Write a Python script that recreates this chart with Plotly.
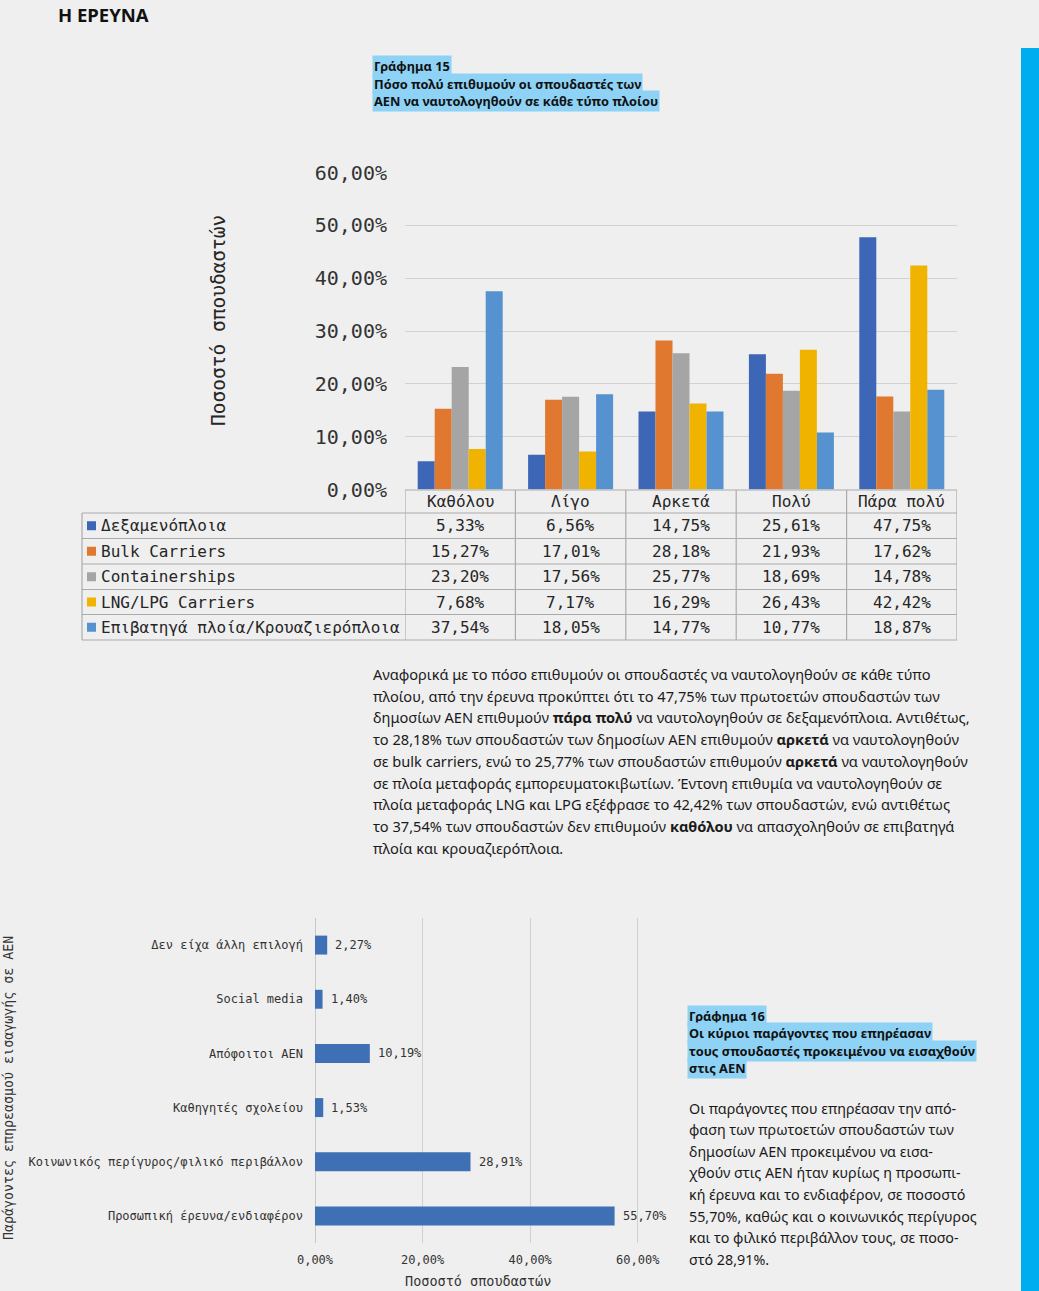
import plotly.graph_objects as go

W, H = 1039, 1291
BG = "#efefef"
MONO = "DejaVu Sans Mono"
SANS = "Noto Sans"

# ---------------- Chart 15 data ----------------
categories = ["Καθόλου", "Λίγο", "Αρκετά", "Πολύ", "Πάρα πολύ"]
ship_types = ["Δεξαμενόπλοια", "Bulk Carriers", "Containerships",
              "LNG/LPG Carriers", "Επιβατηγά πλοία/Κρουαζιερόπλοια"]
tankers = [5.33, 6.56, 14.75, 25.61, 47.75]
bulk = [15.27, 17.01, 28.18, 21.93, 17.62]
containers = [23.20, 17.56, 25.77, 18.69, 14.78]
lng_lpg = [7.68, 7.17, 16.29, 26.43, 42.42]
passenger = [37.54, 18.05, 14.77, 10.77, 18.87]
series15 = [tankers, bulk, containers, lng_lpg, passenger]
colors15 = ["#3d66b6", "#e0782f", "#a5a5a5", "#f0b400", "#5592cf"]

# ---------------- Chart 16 data ----------------
factors = ["Δεν είχα άλλη επιλογή", "Social media", "Απόφοιτοι ΑΕΝ",
           "Καθηγητές σχολείου", "Κοινωνικός περίγυρος/φιλικό περιβάλλον",
           "Προσωπική έρευνα/ενδιαφέρον"]
factor_values = [2.27, 1.40, 10.19, 1.53, 28.91, 55.70]
x16_ticks = [0, 20, 40, 60]


def px(x):
    return x / W


def py(y):
    return 1 - y / H


def pct(v):
    return f"{v:.2f}%".replace(".", ",")


fig = go.Figure()

for name, vals, col in zip(ship_types, series15, colors15):
    fig.add_trace(go.Bar(x=categories, y=[v / 100 for v in vals], name=name,
                         marker=dict(color=col, line=dict(width=0)),
                         xaxis="x", yaxis="y"))

fig.add_trace(go.Bar(y=factors, x=[v / 100 for v in factor_values], orientation="h",
                     marker=dict(color="#3f6fb5", line=dict(width=0)), width=0.35,
                     xaxis="x2", yaxis="y2"))

shapes = []
ann = []

# data labels chart 16
for f, v in zip(factors, factor_values):
    ann.append(dict(xref="x2", yref="y2", x=v / 100, y=f, text=pct(v), showarrow=False,
                    xanchor="left", yanchor="middle", xshift=6,
                    font=dict(family=MONO, size=12, color="#333333")))

# ---- data table under chart 15 ----
LC = "#ababab"
row_edges = [513, 538.5, 564, 589.5, 614.5, 640]
shapes.append(dict(type="line", xref="x", yref="paper", x0=-0.5, x1=4.5,
                   y0=py(490), y1=py(490), line=dict(color=LC, width=1.2)))
for r in row_edges:
    shapes.append(dict(type="line", xref="paper", yref="paper", x0=px(82), x1=px(957),
                       y0=py(r), y1=py(r), line=dict(color=LC, width=1.2)))
for i in range(len(categories) + 1):
    shapes.append(dict(type="line", xref="x", yref="paper", x0=i - 0.5, x1=i - 0.5,
                       y0=py(490), y1=py(640), line=dict(color=LC, width=1.2)))
shapes.append(dict(type="line", xref="paper", yref="paper", x0=px(82), x1=px(82),
                   y0=py(513), y1=py(640), line=dict(color=LC, width=1.2)))

for i, c in enumerate(categories):
    ann.append(dict(xref="x", yref="paper", x=i, y=py(501.5), text=c, showarrow=False,
                    font=dict(family=MONO, size=16, color="#262626"),
                    xanchor="center", yanchor="middle"))
for r, (name, vals, col) in enumerate(zip(ship_types, series15, colors15)):
    yc = (row_edges[r] + row_edges[r + 1]) / 2
    shapes.append(dict(type="rect", xref="paper", yref="paper", x0=px(87), x1=px(96),
                       y0=py(yc - 4.5), y1=py(yc + 4.5), fillcolor=col, line=dict(width=0)))
    ann.append(dict(xref="paper", yref="paper", x=px(99), y=py(yc), text=name,
                    showarrow=False, font=dict(family=MONO, size=16, color="#262626"),
                    xanchor="left", yanchor="middle"))
    for i, v in enumerate(vals):
        ann.append(dict(xref="x", yref="paper", x=i, y=py(yc), text=pct(v),
                        showarrow=False, font=dict(family=MONO, size=16, color="#262626"),
                        xanchor="center", yanchor="middle"))

# y-axis title chart 15
ann.append(dict(xref="paper", yref="paper", x=px(218), y=py(321), text="Ποσοστό σπουδαστών",
                textangle=-90, showarrow=False,
                font=dict(family=MONO, size=19.5, color="#262626"),
                xanchor="center", yanchor="middle"))

# chart 16 axis titles
ann.append(dict(xref="paper", yref="paper", x=px(478), y=py(1281), text="Ποσοστό σπουδαστών",
                showarrow=False, font=dict(family=MONO, size=13.5, color="#333333"),
                xanchor="center", yanchor="middle"))
ann.append(dict(xref="paper", yref="paper", x=px(8), y=py(1088),
                text="Παράγοντες επηρεασμού εισαγωγής σε ΑΕΝ", textangle=-90,
                showarrow=False, font=dict(family=MONO, size=13.3, color="#333333"),
                xanchor="center", yanchor="middle"))

# header
ann.append(dict(xref="paper", yref="paper", x=px(57), y=py(1), text="<b>Η ΕΡΕΥΝΑ</b>",
                showarrow=False, font=dict(family=SANS, size=18.5, color="#111111"),
                xanchor="left", yanchor="top", borderpad=0))

# highlighted titles
HL = "#8ed3f6"
title15 = ["Γράφημα 15", "Πόσο πολύ επιθυμούν οι σπουδαστές των",
           "ΑΕΝ να ναυτολογηθούν σε κάθε τύπο πλοίου"]
for k, t in enumerate(title15):
    ann.append(dict(xref="paper", yref="paper", x=px(372), y=py(66 + k * 17.5),
                    text=f"<b>{t}</b>", showarrow=False, bgcolor=HL, borderpad=1,
                    font=dict(family=SANS, size=12.8, color="#111111"),
                    xanchor="left", yanchor="middle"))
title16 = ["Γράφημα 16", "Οι κύριοι παράγοντες που επηρέασαν",
           "τους σπουδαστές προκειμένου να εισαχθούν", "στις ΑΕΝ"]
for k, t in enumerate(title16):
    ann.append(dict(xref="paper", yref="paper", x=px(687), y=py(1016 + k * 17.4),
                    text=f"<b>{t}</b>", showarrow=False, bgcolor=HL, borderpad=1,
                    font=dict(family=SANS, size=12.8, color="#111111"),
                    xanchor="left", yanchor="middle"))

para1 = [
    "Αναφορικά με το πόσο επιθυμούν οι σπουδαστές να ναυτολογηθούν σε κάθε τύπο",
    "πλοίου, από την έρευνα προκύπτει ότι το 47,75% των πρωτοετών σπουδαστών των",
    "δημοσίων ΑΕΝ επιθυμούν <b>πάρα πολύ</b> να ναυτολογηθούν σε δεξαμενόπλοια. Αντιθέτως,",
    "το 28,18% των σπουδαστών των δημοσίων ΑΕΝ επιθυμούν <b>αρκετά</b> να ναυτολογηθούν",
    "σε bulk carriers, ενώ το 25,77% των σπουδαστών επιθυμούν <b>αρκετά</b> να ναυτολογηθούν",
    "σε πλοία μεταφοράς εμπορευματοκιβωτίων. Έντονη επιθυμία να ναυτολογηθούν σε",
    "πλοία μεταφοράς LNG και LPG εξέφρασε το 42,42% των σπουδαστών, ενώ αντιθέτως",
    "το 37,54% των σπουδαστών δεν επιθυμούν <b>καθόλου</b> να απασχοληθούν σε επιβατηγά",
    "πλοία και κρουαζιερόπλοια.",
]
for k, t in enumerate(para1):
    ann.append(dict(xref="paper", yref="paper", x=px(371), y=py(674 + k * 21.7),
                    text=t, showarrow=False,
                    font=dict(family=SANS, size=14.6, color="#1a1a1a"),
                    xanchor="left", yanchor="middle"))

para2 = [
    "Οι παράγοντες που επηρέασαν την από-",
    "φαση των πρωτοετών σπουδαστών των",
    "δημοσίων ΑΕΝ προκειμένου να εισα-",
    "χθούν στις ΑΕΝ ήταν κυρίως η προσωπι-",
    "κή έρευνα και το ενδιαφέρον, σε ποσοστό",
    "55,70%, καθώς και ο κοινωνικός περίγυρος",
    "και το φιλικό περιβάλλον τους, σε ποσο-",
    "στό 28,91%.",
]
for k, t in enumerate(para2):
    ann.append(dict(xref="paper", yref="paper", x=px(687), y=py(1108 + k * 21.6),
                    text=t, showarrow=False,
                    font=dict(family=SANS, size=14.3, color="#1a1a1a"),
                    xanchor="left", yanchor="middle"))

# right blue stripe
shapes.append(dict(type="rect", xref="paper", yref="paper", x0=px(1021), x1=1.0,
                   y0=0, y1=py(48), fillcolor="#00adef", line=dict(width=0)))

fig.update_layout(
    width=W, height=H, margin=dict(l=0, r=0, t=0, b=0, pad=0, autoexpand=False),
    paper_bgcolor=BG, plot_bgcolor=BG, showlegend=False,
    separators=",.", barmode="group", bargap=0.23, bargroupgap=0,
    xaxis=dict(domain=[px(405), px(957)], type="category", range=[-0.5, 4.5],
               showticklabels=False, showgrid=False, zeroline=False, showline=False,
               anchor="y", automargin=False),
    yaxis=dict(domain=[py(489.5), py(172.5)], range=[0, 0.6], dtick=0.1,
               tickformat=".2%", gridcolor="#d2d2d2", gridwidth=1.3, zeroline=False,
               showline=False, ticks="", ticklabelstandoff=17, automargin=False,
               tickfont=dict(family=MONO, size=20, color="#333333"), anchor="x"),
    xaxis2=dict(domain=[px(315), px(670)], range=[0, 0.66],
                tickvals=[v / 100 for v in x16_ticks], tickformat=".2%",
                gridcolor="#d0d0d0", gridwidth=1, zeroline=True, zerolinecolor="#c8c8c8",
                zerolinewidth=1.3, showline=False, ticks="", ticklabelstandoff=8,
                automargin=False,
                tickfont=dict(family=MONO, size=12, color="#333333"), anchor="y2"),
    yaxis2=dict(domain=[py(1243), py(918)], type="category", categoryorder="array",
                categoryarray=factors, autorange="reversed", showgrid=False,
                zeroline=False, showline=False, ticks="", ticklabelstandoff=11,
                automargin=False,
                tickfont=dict(family=MONO, size=12, color="#333333"), anchor="x2"),
    shapes=shapes, annotations=ann,
)

fig.write_html(
    "out.html",
    config={"displayModeBar": False},
    post_script=("document.documentElement.style.margin='0';"
                 "document.body.style.margin='0';"
                 "document.body.style.overflow='hidden';"
                 "document.body.style.background='#efefef';"),
)
